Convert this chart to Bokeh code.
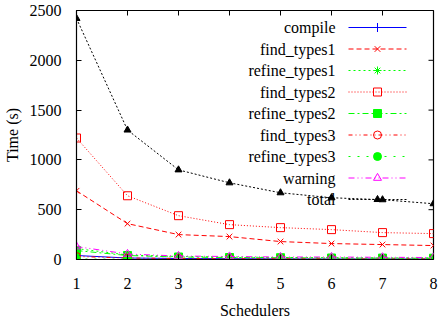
from bokeh.plotting import figure
from bokeh.models import Range1d, FixedTicker
from bokeh.embed import file_html
from bokeh.resources import INLINE
from bokeh.core.properties import value

# ---- data ----
schedulers = [1, 2, 3, 4, 5, 6, 7, 8]
compile_t = [40, 15, 10, 8, 6, 5, 5, 5]
find_types1 = [690, 360, 250, 230, 180, 160, 150, 140]
refine_types1 = [110, 45, 30, 25, 20, 18, 16, 15]
find_types2 = [1220, 640, 440, 350, 320, 300, 270, 260]
refine_types2 = [90, 40, 25, 20, 18, 15, 14, 13]
find_types3 = [30, 15, 10, 8, 7, 6, 5, 5]
refine_types3 = [5, 3, 2, 2, 2, 2, 2, 2]
warning = [130, 55, 35, 30, 25, 25, 22, 20]
total = [2420, 1300, 900, 770, 670, 620, 600, 560]

x_ticks = [1, 2, 3, 4, 5, 6, 7, 8]
y_ticks = [0, 500, 1000, 1500, 2000, 2500]

FONT = "Liberation Serif"
FS = "16px"
FW, FH = 357, 249
TICK = 5

series = [
    ("compile", compile_t, "#0000ff", "solid", "cross", True, 9),
    ("find_types1", find_types1, "#ff0000", "5 3", "x", True, 8),
    ("refine_types1", refine_types1, "#00ff00", "2 3", "asterisk", True, 8),
    ("find_types2", find_types2, "#ff0000", "1 2", "square", False, 8),
    ("refine_types2", refine_types2, "#00ff00", "6 3 2 3", "square", True, 8),
    ("find_types3", find_types3, "#ff0000", "4 3 1 3 1 3", "circle", False, 8),
    ("refine_types3", refine_types3, "#00ff00", "2 7", "circle", True, 8),
    ("warning", warning, "#ff00ff", "6 3 1 3 1 3", "triangle", False, 8),
    ("total", total, "#000000", "2 2", "triangle", True, 7),
]

p = figure(frame_width=FW, frame_height=FH,
           x_range=Range1d(1, 8), y_range=Range1d(0, 2500),
           output_backend="svg", toolbar_location=None,
           min_border_left=75, min_border_right=5, min_border_top=10,
           min_border_bottom=60)
p.background_fill_color = "white"
p.border_fill_color = "white"
p.outline_line_color = "black"
p.outline_line_width = 1.2
p.xgrid.visible = False
p.ygrid.visible = False

for ax, ticks in ((p.xaxis[0], x_ticks), (p.yaxis[0], y_ticks)):
    ax.ticker = FixedTicker(ticks=ticks)
    ax.major_tick_in = TICK
    ax.major_tick_out = 0
    ax.minor_tick_line_color = None
    ax.axis_line_color = "black"
    ax.major_tick_line_color = "black"
    ax.major_label_text_font = FONT
    ax.major_label_text_font_size = FS
    ax.major_label_text_color = "black"
    ax.axis_label_text_font = FONT
    ax.axis_label_text_font_size = FS
    ax.axis_label_text_font_style = "normal"
    ax.axis_label_text_color = "black"

p.xaxis[0].axis_label = "Schedulers"
p.yaxis[0].axis_label = "Time (s)"
p.xaxis[0].major_label_standoff = 18
p.yaxis[0].major_label_standoff = 15
p.xaxis[0].axis_label_standoff = 10
p.yaxis[0].axis_label_standoff = 6

# screen-space ranges (pixels inside the frame, y measured from the top)
p.extra_x_ranges = {"px": Range1d(0, FW)}
p.extra_y_ranges = {"py": Range1d(FH, 0)}

# mirrored ticks on top and right border (gnuplot style)
p.segment(x0=x_ticks, x1=x_ticks, y0=[0] * len(x_ticks), y1=[TICK] * len(x_ticks),
          line_color="black", line_width=1, y_range_name="py")
p.segment(x0=[FW - TICK] * len(y_ticks), x1=[FW] * len(y_ticks), y0=y_ticks, y1=y_ticks,
          line_color="black", line_width=1, x_range_name="px")

# data lines
for name, vals, color, dash, marker, filled, sz in series:
    p.line(schedulers, vals, line_color=color, line_dash=dash, line_width=1)
    p.scatter(schedulers, vals, marker=marker, size=sz, line_color=color,
              fill_color=color if filled else None, line_width=1)

# gnuplot-style key (label right-aligned, sample to its right)
for i, (name, vals, color, dash, marker, filled, sz) in enumerate(series):
    yy = 17 + 21.5 * i
    p.text(x=[FW - 98], y=[yy], text=[name], text_align="right",
           text_baseline="middle", text_font=value(FONT),
           text_font_size=FS, text_color="black",
           x_range_name="px", y_range_name="py")
    p.line(x=[FW - 85, FW - 27], y=[yy, yy], line_color=color,
           line_dash=dash, line_width=1,
           x_range_name="px", y_range_name="py")
    p.scatter(x=[FW - 56], y=[yy], marker=marker, size=sz, line_color=color,
              fill_color=color if filled else None, line_width=1,
              x_range_name="px", y_range_name="py")

open("out.html", "w").write(file_html(p, INLINE))
